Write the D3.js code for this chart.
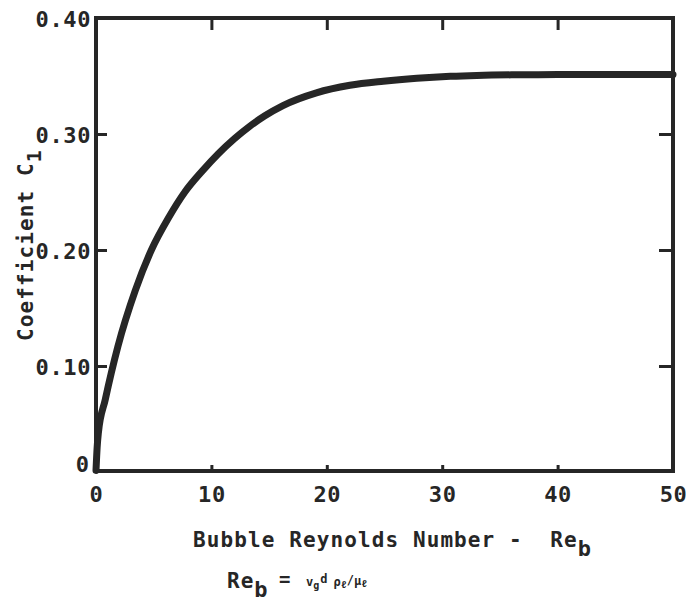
<!DOCTYPE html>
<html>
<head>
<meta charset="utf-8">
<script src="https://cdn.jsdelivr.net/npm/d3@7"></script>
<style>
  html, body { margin: 0; padding: 0; background: #fff; }
  svg { display: block; }
  text { font-family: "DejaVu Sans Mono", "Liberation Mono", monospace; fill: #262626; }
</style>
</head>
<body>
<svg id="chart" width="686" height="603"></svg>
<script>
// ---- data ----
const reynolds = [0, 0.1, 0.2, 0.8, 1.9, 3.4, 4.8, 6.3, 7.7, 9.2, 10.6, 12.0, 13.3, 14.6, 16.2, 19.1, 22.0, 24.9, 27.8, 30.7, 33, 36, 40, 45, 50];
const coeffC1 = [0.01, 0.03, 0.042, 0.071, 0.117, 0.165, 0.200, 0.228, 0.250, 0.268, 0.283, 0.296, 0.3065, 0.3155, 0.3245, 0.3355, 0.342, 0.3455, 0.348, 0.3497, 0.3505, 0.351, 0.3512, 0.3513, 0.3513];
const xTicks = [0, 10, 20, 30, 40, 50];
const yTicks = [0.1, 0.2, 0.3, 0.4];
const yTickLabels = ["0.10", "0.20", "0.30", "0.40"];

// ---- layout ----
const svg = d3.select("#chart");
const ink = "#262626";
const x = d3.scaleLinear().domain([0, 50]).range([96, 673]);
const y = d3.scaleLinear().domain([0, 0.4]).range([482, 18]);
const frameTop = y(0.4), frameBottom = 471, frameLeft = x(0), frameRight = x(50);

// curve
const pts = reynolds.map((r, i) => [r, coeffC1[i]]);
svg.append("path")
  .attr("d", d3.line().x(d => x(d[0])).y(d => y(d[1])).curve(d3.curveMonotoneX)(pts))
  .attr("fill", "none").attr("stroke", ink).attr("stroke-width", 7)
  .attr("stroke-linecap", "round").attr("stroke-linejoin", "round");

// frame
svg.append("path")
  .attr("d", `M${frameLeft},${frameTop}H${frameRight}V${frameBottom}H${frameLeft}Z`)
  .attr("fill", "none").attr("stroke", ink).attr("stroke-width", 4)
  .attr("stroke-linejoin", "miter");

function styleAxis(g) {
  g.select(".domain").remove();
  g.selectAll(".tick line").attr("stroke", ink).attr("stroke-width", 3);
  g.selectAll(".tick text").attr("fill", ink)
    .style("font-family", '"DejaVu Sans Mono", monospace')
    .style("font-size", "22px").style("font-weight", "bold")
    .style("letter-spacing", "0.6px");
}

// bottom axis
svg.append("g").attr("transform", `translate(0,${frameBottom})`)
  .call(d3.axisBottom(x).tickValues(xTicks).tickSize(-6).tickPadding(15).tickFormat(d3.format("d")))
  .call(styleAxis);

// top ticks
svg.append("g").attr("transform", `translate(0,${frameTop})`)
  .call(d3.axisTop(x).tickValues(xTicks.slice(1, -1)).tickSize(-12).tickFormat(""))
  .call(styleAxis);

// left axis
svg.append("g").attr("transform", `translate(${frameLeft},0)`)
  .call(d3.axisLeft(y).tickValues(yTicks).tickSize(-11).tickPadding(5)
    .tickFormat((d, i) => yTickLabels[i]))
  .call(styleAxis)
  .call(g => g.selectAll(".tick text").attr("dy", "0.4em"))
  .call(g => g.selectAll(".tick line").filter(d => d === 0.4).remove());

// "0" label at the bottom of the y axis
svg.append("text")
  .attr("x", frameLeft - 7).attr("y", frameBottom - 7).attr("dy", "0.36em")
  .attr("text-anchor", "end")
  .style("font-size", "22px").style("font-weight", "bold")
  .text("0");

// right ticks
svg.append("g").attr("transform", `translate(${frameRight},0)`)
  .call(d3.axisRight(y).tickValues(yTicks.slice(0, 3)).tickSize(-14).tickFormat(""))
  .call(styleAxis);

// y axis title
const yt = svg.append("text")
  .attr("transform", "translate(33,341) rotate(-90)")
  .style("font-size", "21px").style("font-weight", "bold")
  .style("letter-spacing", "1.1px");
yt.append("tspan").text("Coefficient C");
yt.append("tspan").attr("dy", 8).style("font-size", "20px").text("1");

// x axis title
const xt = svg.append("text")
  .attr("x", 193).attr("y", 547)
  .style("font-size", "21px").style("font-weight", "bold")
  .style("letter-spacing", "1.1px")
  .attr("xml:space", "preserve");
xt.append("tspan").text("Bubble Reynolds Number -  Re");
xt.append("tspan").attr("dy", 9).style("font-size", "22px").text("b");

// formula line
const ft = svg.append("text").attr("x", 227).attr("y", 588)
  .style("font-size", "21px").style("font-weight", "bold").style("letter-spacing", "1px");
ft.append("tspan").text("Re");
ft.append("tspan").attr("dy", 9).style("font-size", "22px").text("b");
svg.append("text").attr("x", 279).attr("y", 586)
  .style("font-size", "19px").style("font-weight", "bold").text("=");
const fr = svg.append("text").attr("x", 306).attr("y", 586)
  .style("font-size", "12px").style("font-weight", "bold");
fr.append("tspan").text("v");
fr.append("tspan").attr("dy", 3).style("font-size", "10px").text("g");
fr.append("tspan").attr("dy", -6).attr("dx", 1).text("d");
fr.append("tspan").attr("dx", 6).attr("dy", 3).text("ρ");
fr.append("tspan").attr("dy", 2).style("font-size", "10px").text("ℓ");
fr.append("tspan").attr("dy", -4).text("/");
fr.append("tspan").attr("dy", 1).text("μ");
fr.append("tspan").attr("dy", 2).style("font-size", "10px").text("ℓ");
</script>
</body>
</html>
